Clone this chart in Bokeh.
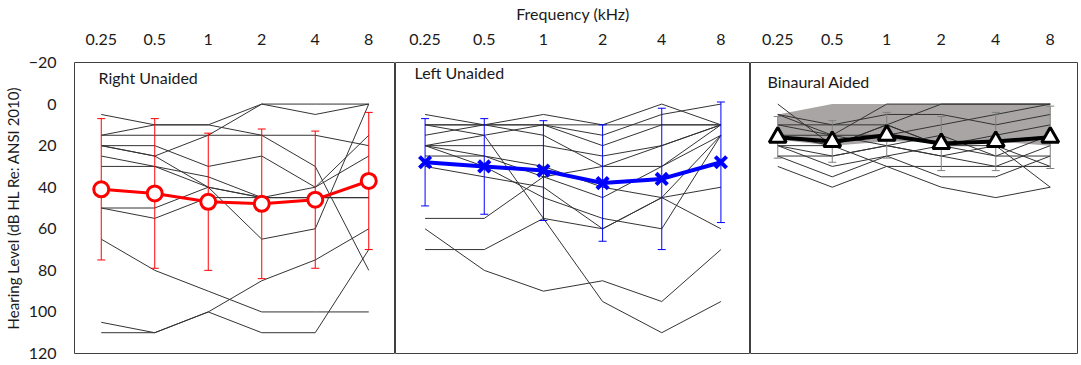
from bokeh.plotting import figure
from bokeh.models import FactorRange, Range1d, FixedTicker, Label
from bokeh.layouts import row
from bokeh.embed import file_html
from bokeh.resources import INLINE

# ---------------- data ----------------
freqs = ["0.25", "0.5", "1", "2", "4", "8"]
y_ticks = [-20, 0, 20, 40, 60, 80, 100, 120]

right_lines = [
    [15, 15, 15, 15, 15, 20],
    [20, 20, 30, 25, 40, 25],
    [15, 10, 10, 0, 0, 0],
    [20, 25, 15, 0, 5, 0],
    [20, 25, 40, 45, 40, 15],
    [25, 30, 40, 45, 45, 45],
    [30, 30, 35, 45, 45, 45],
    [5, 10, 10, 15, 30, 80],
    [50, 55, 45, 45, 45, 45],
    [50, 50, 40, 65, 60, 0],
    [65, 80, 90, 100, 100, 100],
    [110, 110, 100, 85, 75, 60],
    [105, 110, 100, 110, 110, 70],
]
right_mean = [41, 43, 47, 48, 46, 37]
right_sd = [34, 36, 33, 36, 33, 33]

left_lines = [
    [5, 10, 5, 10, 0, 10],
    [10, 10, 10, 10, 10, 10],
    [10, 15, 55, 95, 110, 95],
    [15, 10, 10, 15, 5, 0],
    [20, 15, 10, 20, 10, 10],
    [20, 20, 20, 25, 20, 10],
    [10, 10, 15, 30, 30, 15],
    [20, 25, 30, 40, 45, 60],
    [25, 25, 35, 45, 30, 10],
    [30, 35, 40, 60, 45, 40],
    [20, 30, 45, 55, 60, 15],
    [55, 55, 35, 30, 20, 10],
    [70, 70, 55, 60, 45, 15],
    [60, 80, 90, 85, 95, 70],
]
left_mean = [28, 30, 32, 38, 36, 28]
left_sd = [21, 23, 24, 28, 34, 29]

aided_lines = [
    [0, 20, 10, 20, 25, 25],
    [25, 35, 25, 35, 35, 25],
    [30, 40, 30, 40, 45, 40],
    [5, 10, 10, 0, 0, 0],
    [10, 10, 5, 5, 10, 5],
    [15, 15, 15, 10, 5, 0],
    [20, 25, 20, 25, 30, 30],
    [20, 20, 30, 30, 30, 20],
    [10, 15, 0, 0, 0, 0],
    [15, 20, 10, 20, 15, 10],
    [25, 25, 20, 15, 25, 15],
    [5, 15, 20, 25, 20, 40],
    [20, 30, 25, 20, 20, 30],
]
aided_mean = [16, 18, 15, 19, 18, 16]
aided_sd = [10, 10, 11, 13, 14, 15]
aided_band_top = [5, 0, 0, 0, 0, 0]
aided_band_bottom = [17, 20, 18, 18, 18, 20]

FONT = "Lato"
TXT = "#1a1a1a"


def make_panel(frame_width, title, title_dx, title_y, left_axis=False,
               xlabel=None, right_border=0):
    p = figure(x_range=FactorRange(*freqs), y_range=Range1d(120, -20),
               frame_width=frame_width, frame_height=291,
               output_backend="svg", toolbar_location=None,
               x_axis_location="above",
               y_axis_location="left" if left_axis else None,
               min_border_left=73 if left_axis else 0,
               min_border_right=right_border,
               min_border_top=60, min_border_bottom=12)
    p.xgrid.visible = False
    p.ygrid.visible = False
    p.outline_line_color = "#404040"
    p.outline_line_width = 1
    p.background_fill_color = "white"
    p.border_fill_color = "white"

    ax = p.xaxis[0]
    ax.axis_line_color = None
    ax.major_tick_line_color = None
    ax.major_tick_out = 0
    ax.major_tick_in = 0
    ax.major_label_standoff = 18
    ax.major_label_text_font = FONT
    ax.major_label_text_font_size = "16px"
    ax.major_label_text_color = TXT
    if xlabel:
        ax.axis_label = xlabel
        ax.axis_label_standoff = 8
        ax.axis_label_text_font = FONT
        ax.axis_label_text_font_size = "16px"
        ax.axis_label_text_font_style = "normal"
        ax.axis_label_text_color = TXT

    if left_axis:
        ay = p.yaxis[0]
        ay.ticker = FixedTicker(ticks=y_ticks)
        ay.axis_line_color = None
        ay.major_tick_line_color = None
        ay.minor_tick_line_color = None
        ay.major_tick_out = 0
        ay.major_label_standoff = 18
        ay.major_label_text_font = FONT
        ay.major_label_text_font_size = "16px"
        ay.major_label_text_color = TXT
        ay.axis_label = "Hearing Level (dB HL Re: ANSI 2010)"
        ay.axis_label_standoff = 4
        ay.axis_label_text_font = FONT
        ay.axis_label_text_font_size = "15px"
        ay.axis_label_text_font_style = "normal"
        ay.axis_label_text_color = TXT

    p.add_layout(Label(x=0, y=title_y, x_offset=title_dx, text=title,
                       text_font=FONT, text_font_size="16px",
                       text_color=TXT, text_baseline="middle",
                       text_align="left"))
    return p


def draw_series(p, lines, mean, sd, color, bar_color, marker, msize,
                mline_w, marker_w):
    p.multi_line(xs=[freqs] * len(lines), ys=lines,
                 line_color="#333333", line_width=1)
    lower = [m + s for m, s in zip(mean, sd)]
    upper = [m - s for m, s in zip(mean, sd)]
    p.segment(x0=freqs, y0=lower, x1=freqs, y1=upper,
              line_color=bar_color, line_width=1)
    p.scatter(x=freqs * 2, y=lower + upper, marker="dash", size=8,
              line_color=bar_color, line_width=1)
    p.line(x=freqs, y=mean, line_color=color, line_width=mline_w)
    if marker == "x":
        p.scatter(x=freqs, y=mean, marker="x", size=msize,
                  line_color=color, line_width=marker_w)
    else:
        p.scatter(x=freqs, y=mean, marker=marker, size=msize,
                  fill_color="white", line_color=color, line_width=marker_w)


p1 = make_panel(321, "Right Unaided", 24, -13, left_axis=True)
draw_series(p1, right_lines, right_mean, right_sd, "#ff0000", "#ff0000",
            "circle", 15, 3, 3)

p2 = make_panel(355, "Left Unaided", 19, -15, xlabel="Frequency (kHz)")
draw_series(p2, left_lines, left_mean, left_sd, "#0000ff", "#0000ff",
            "x", 16, 4, 4)

p3 = make_panel(327, "Binaural Aided", 17, -11, right_border=4)
p3.varea(x=freqs, y1=aided_band_top, y2=aided_band_bottom,
         fill_color="#a9a5a5")
draw_series(p3, aided_lines, aided_mean, aided_sd, "#000000", "#808080",
            "triangle", 17, 4, 3)

layout = row(p1, p2, p3)
open("out.html", "w").write(file_html(layout, INLINE))
